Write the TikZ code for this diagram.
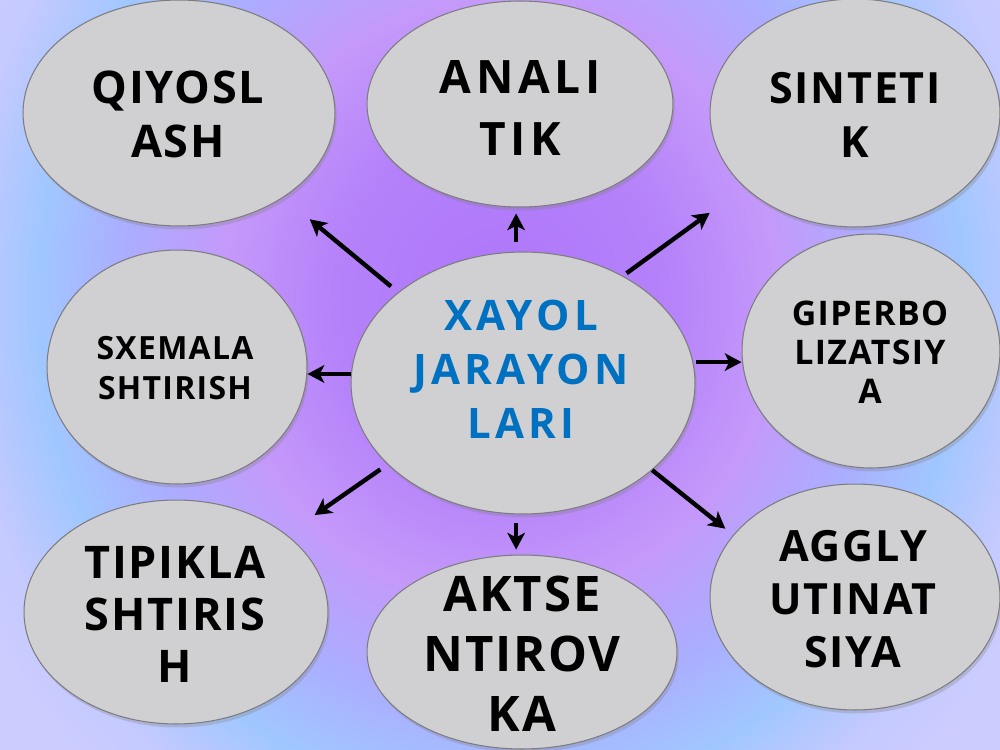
\documentclass[tikz,border=0pt]{standalone}
\usepackage{fontspec}
\setmainfont{Open Sans}
\newfontfamily\bubblefont{Open Sans}[LetterSpace=4]
\newfontfamily\widefont{Open Sans}[LetterSpace=10]
\usetikzlibrary{shapes.geometric,arrows.meta,shadows}
\definecolor{bubblefill}{RGB}{208,208,210}
\definecolor{bubbleline}{RGB}{125,125,128}
\definecolor{titleblue}{RGB}{0,112,192}
\pgfdeclareradialshading{dreamy}{\pgfpoint{0bp}{0bp}}{rgb(0bp)=(0.68,0.46,0.98); rgb(7bp)=(0.71,0.51,0.98); rgb(11.5bp)=(0.77,0.60,0.98); rgb(15.7bp)=(0.67,0.68,1); rgb(19.3bp)=(0.63,0.78,1); rgb(22.5bp)=(0.77,0.79,1); rgb(25bp)=(0.80,0.80,1); rgb(50bp)=(0.80,0.80,1)}

\begin{document}
\begin{tikzpicture}[
    x=0.02cm, y=-0.02cm,
    bubble/.style={ellipse, draw=bubbleline, line width=0.6pt, fill=bubblefill, inner sep=0pt,
        drop shadow={shadow xshift=1pt, shadow yshift=-2pt, opacity=0.3}},
    word/.style 2 args={font={\bubblefont\bfseries\fontsize{#1}{#2}\selectfont}, align=center, inner sep=0pt},
    wideword/.style 2 args={font={\widefont\bfseries\fontsize{#1}{#2}\selectfont}, align=center, inner sep=0pt},
    arr/.style={-{Stealth[length=9.5pt, width=10pt, inset=2.5pt]}, line width=2.5pt, black}
]
    % Background
    \useasboundingbox (0,0) rectangle (1000,750);
    \begin{scope}
        \clip (0,0) rectangle (1000,750);
        \shade[shading=dreamy] (-100,-350) rectangle (1100,950);
    \end{scope}

    % Bubbles
    \node[bubble, minimum width=6.88cm, minimum height=5.24cm] (xayol) at (523,383) {};
    \node[bubble, minimum width=6.24cm, minimum height=4.52cm] (qiyos) at (179,113) {};
    \node[bubble, minimum width=6.12cm, minimum height=4.12cm] (anali) at (520,104) {};
    \node[bubble, minimum width=5.80cm, minimum height=4.56cm] (sintet) at (855,113) {};
    \node[bubble, minimum width=5.16cm, minimum height=4.68cm] (giper) at (871,351) {};
    \node[bubble, minimum width=5.20cm, minimum height=4.68cm] (sxema) at (177,367) {};
    \node[bubble, minimum width=6.08cm, minimum height=4.48cm] (tipik) at (176,612) {};
    \node[bubble, minimum width=6.20cm, minimum height=3.88cm] (aktse) at (522,652) {};
    \node[bubble, minimum width=5.80cm, minimum height=4.52cm] (aggly) at (855,597) {};

    % Texts
    \node[wideword={23.9pt}{30.7pt}, text=titleblue] (xayol-t) at (521,369) {XAYOL\\JARAYON\\LARI};
    \node[word={25.6pt}{30.7pt}] (qiyos-t) at (178,114) {QIYOSL\\ASH};
    \node[wideword={26.2pt}{35.3pt}] (anali-t) at (520,108) {ANALI\\TIK};
    \node[word={24.5pt}{30.7pt}] (sintet-t) at (855,115) {SINTETI\\K};
    \node[word={19.3pt}{22.2pt}] (giper-t) at (870,352) {GIPERBO\\LIZATSIY\\A};
    \node[word={18.2pt}{22.8pt}] (sxema-t) at (175,368) {SXEMALA\\SHTIRISH};
    \node[word={25.6pt}{29.6pt}] (tipik-t) at (175,614) {TIPIKLA\\SHTIRIS\\H};
    \node[word={27.9pt}{34.1pt}] (aktse-t) at (522,654) {AKTSE\\NTIROV\\KA};
    \node[word={24.5pt}{30.2pt}] (aggly-t) at (853,599) {AGGLY\\UTINAT\\SIYA};

    % Arrows
    \draw[arr, shorten <=5.3pt, shorten >=19.4pt] (xayol.144.5) -- (qiyos.-39.9);
    \draw[arr, shorten <=5.7pt, shorten >=3.4pt] (xayol.93.5) -- (xayol.93.5 |- anali.south);
    \draw[arr, shorten <=2.5pt, shorten >=24.5pt] (xayol.47.4) -- (sintet.-146.1);
    \draw[arr, shorten <=1.7pt] (xayol.7.7) -- (xayol.7.7 -| giper.west);
    \draw[arr] (xayol.177.3) -- (xayol.177.3 -| sxema.east);
    \draw[arr, shorten <=5pt, shorten >=19.4pt] (xayol.211.7) -- (tipik.35.8);
    \draw[arr, shorten <=5pt, shorten >=2.8pt] (xayol.-93.5) -- (xayol.-93.5 |- aktse.north);
    \draw[arr, shorten >=5.7pt] (xayol.-34.2) -- (aggly.153.6);
\end{tikzpicture}
\end{document}
